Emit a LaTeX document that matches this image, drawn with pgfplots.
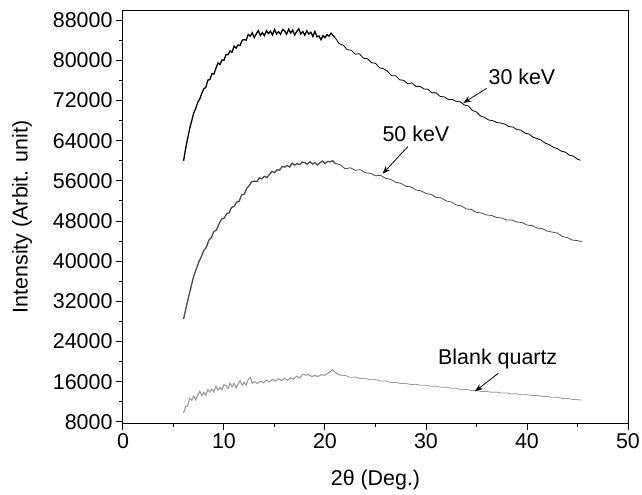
\documentclass[border=0pt]{standalone}
\usepackage{fontspec}
\setmainfont{Liberation Sans}
\usepackage{pgfplots}
\pgfplotsset{compat=1.18}
\usetikzlibrary{arrows.meta}
\definecolor{c30}{HTML}{000000}
\definecolor{c50}{HTML}{4A4A4A}
\definecolor{cbq}{HTML}{9A9A9A}
\newcommand{\fs}{\fontsize{21.5}{25}\selectfont}
\begin{document}
\begin{tikzpicture}
\useasboundingbox (-123bp,-72bp) rectangle (519bp,423bp);
\begin{axis}[
  at={(0,0)}, anchor=south west,
  scale only axis, width=505bp, height=412bp,
  xmin=0, xmax=50, ymin=7800, ymax=89800,
  xtick={0,10,...,50}, minor x tick num=1,
  ytick={8000,16000,...,88000}, minor y tick num=1,
  tick align=outside, tick pos=left,
  major tick length=7bp, minor tick length=4bp,
  axis line style={line width=1bp},
  every tick/.style={black, line width=1bp},
  scaled y ticks=false,
  /pgf/number format/assume math mode=true,
  yticklabel style={/pgf/number format/.cd, fixed, set thousands separator={}},
  tick label style={font=\fs},
  label style={font=\fs},
  xlabel={2θ (Deg.)}, ylabel={Intensity (Arbit. unit)},
  x label style={at={(axis description cs:0.5,-0.138)}, anchor=center},
  y label style={at={(axis description cs:-0.2,0.5)}, anchor=center},
  clip=false,
]
% 30 keV
\addplot[c30, line width=1.3bp] coordinates {
(6.0,60000)(6.2,62400)(6.4,64400)(6.6,66400)(6.8,67900)(7.0,69500)(7.2,70400)(7.4,71600)(7.6,72300)(7.8,73400)
(8.0,74300)(8.2,74600)(8.4,76050)(8.6,76150)(8.8,77300)(9.0,77250)(9.2,78400)(9.4,79450)(9.6,79150)(9.8,80050)
(10.0,80000)(10.2,81150)(10.4,81100)(10.6,81850)(10.8,81600)(11.0,82800)(11.2,82400)(11.4,83050)(11.6,82950)(11.8,84000)
(12.0,84100)(12.2,84000)(12.4,85150)(12.6,84800)(12.8,85450)(13.0,84500)(13.2,85280)(13.4,85900)(13.6,84930)(13.8,85500)
(14.0,84880)(14.2,85870)(14.4,85310)(14.6,85780)(14.8,85030)(15.0,86150)(15.2,85260)(15.4,85670)(15.6,85160)(15.8,86100)
(16.0,85860)(16.2,85200)(16.4,86180)(16.6,85400)(16.8,86000)(17.0,85020)(17.2,85710)(17.4,86280)(17.6,85210)(17.8,85720)
(18.0,84980)(18.2,85870)(18.4,85210)(18.6,85580)(18.8,84730)(19.0,85750)(19.2,84640)(19.4,84830)(19.6,84100)(19.8,84900)
(20.0,84500)(20.2,85100)(20.4,84800)(20.6,85400)(20.8,84900)(21.0,84500)
};
\addplot[c30, line width=0.8bp] coordinates {
(21.0,84500)(21.4,83300)(21.8,83000)(22.2,82100)(22.6,82000)(23.0,81200)(23.4,81300)(23.8,80400)(24.2,80300)(24.6,79500)(25.0,79400)
(25.4,78500)(25.8,78300)(26.2,77800)(26.6,76900)(27.0,76900)(27.4,76100)(27.8,76000)(28.2,75300)(28.6,75500)(29.0,74800)
(29.4,74800)(29.8,74300)(30.2,74200)(30.6,73500)(31.0,73500)(31.4,72800)(31.8,72700)(32.2,72200)(32.6,72200)(33.0,71800)
(33.4,71700)(33.8,71100)(34.2,70900)(34.6,70000)(35.0,69700)(35.4,68900)(35.8,68600)(36.2,68100)(36.6,68000)(37.0,67600)
(37.4,67500)(37.8,67300)(38.2,66800)(38.6,66700)(39.0,66200)(39.4,66100)(39.8,65500)(40.2,65300)(40.6,64700)(41.0,64400)
(41.4,64100)(41.8,63500)(42.2,63200)(42.6,62700)(43.0,62400)(43.4,61900)(43.8,61700)(44.2,61100)(44.6,60900)(45.0,60300)
(45.3,60100)
};
% 50 keV
\addplot[c50, line width=1.3bp] coordinates {
(6.0,28500)(6.25,30800)(6.5,32900)(6.75,35000)(7.0,37000)(7.25,38400)(7.5,39800)(7.75,40900)
(8.0,42150)(8.25,42750)(8.5,44200)(8.75,44700)(9.0,45900)(9.25,46200)(9.5,47380)(9.75,48380)(10.0,48530)(10.25,49400)
(10.5,49620)(10.75,50700)(11.0,50920)(11.25,51770)(11.5,51950)(11.75,53200)(12.0,53350)(12.25,54480)(12.5,55100)(12.75,55830)
(13.0,55950)(13.25,55850)(13.5,56600)(13.75,56400)(14.0,56900)(14.25,56650)(14.5,57280)(14.75,57880)(15.0,57630)(15.25,58200)
(15.5,58120)(15.75,58850)(16.0,58720)(16.25,59070)(16.5,58750)(16.75,59500)(17.0,59150)(17.25,59430)(17.5,59200)(17.75,59730)
(18.0,59650)(18.25,59300)(18.5,59800)(18.75,59350)(19.0,59600)(19.25,59150)(19.5,59580)(19.75,59930)(20.0,59430)(20.25,59850)
(20.5,59800)(20.75,60000)(21.0,59500)
};
\addplot[c50, line width=0.8bp] coordinates {
(21.0,59500)(21.5,59200)(22.0,58400)(22.5,58600)(23.0,58100)(23.5,58200)(24.0,57600)(24.5,57500)(25.0,57000)(25.5,57100)
(26.0,56500)(26.5,56300)(27.0,55700)(27.5,55500)(28.0,54900)(28.5,54800)(29.0,54200)(29.5,54000)(30.0,53500)(30.5,53300)
(31.0,52700)(31.5,52600)(32.0,52000)(32.5,51800)(33.0,51200)(33.5,51000)(34.0,50400)(34.5,50300)(35.0,49700)(35.5,49600)
(36.0,49200)(36.5,49100)(37.0,48700)(37.5,48600)(38.0,48200)(38.5,48200)(39.0,47800)(39.5,47700)(40.0,47200)(40.5,47100)
(41.0,46600)(41.5,46500)(42.0,46000)(42.5,45800)(43.0,45600)(43.5,44900)(44.0,44700)(44.5,44200)(45.0,44100)(45.4,43900)
};
% Blank quartz
\addplot[cbq, line width=1.1bp] coordinates {
(6.0,9800)(6.2,11060)(6.4,11210)(6.6,12735)(6.8,12305)(7.0,13190)(7.2,12415)(7.4,13330)(7.6,14115)(7.8,13225)
(8.0,13895)(8.2,13330)(8.4,14405)(8.6,13970)(8.8,14575)(9.0,13945)(9.2,15150)(9.4,14340)(9.6,14830)(9.8,14410)
(10.0,15420)(10.2,15240)(10.4,14670)(10.6,15725)(10.8,15025)(11.0,15690)(11.2,14795)(11.4,15590)(11.6,16255)(11.8,15295)
(12.0,15895)(12.2,15330)(12.4,16455)(12.6,16900)(12.8,15700)(13.0,16000)
(13.3,15650)(13.6,16150)(13.9,15800)(14.2,16350)(14.5,16000)(14.8,16500)(15.1,16100)(15.4,16600)(15.7,16200)(16.0,16700)
(16.3,16350)(16.6,16800)(16.9,16550)(17.2,17100)(17.5,16800)(17.8,17500)(18.1,17350)(18.4,17450)(18.7,17050)(19.0,17250)
(19.3,17050)(19.6,17400)(19.9,17300)(20.2,17600)(20.5,18000)(20.75,18400)(21.0,17900)(21.3,17500)(21.6,17300)
};
\addplot[cbq, line width=0.8bp] coordinates {
(21.6,17300)(22.0,17250)(22.5,16900)(23.0,16950)(23.5,16650)(24.0,16700)(24.5,16400)(25.0,16450)(25.5,16150)(26.0,16150)(26.5,15850)
(27.0,15900)(27.5,15650)(28.0,15700)(28.5,15450)(29.0,15500)(29.5,15300)(30.0,15330)(30.5,15100)(31.0,15150)(31.5,14900)
(32.0,14950)(32.5,14700)(33.0,14700)(33.5,14450)(34.0,14500)(34.5,14250)(35.0,14250)(35.5,14050)(36.0,14100)(36.5,13900)
(37.0,13950)(37.5,13750)(38.0,13780)(38.5,13580)(39.0,13600)(39.5,13420)(40.0,13450)(40.5,13250)(41.0,13300)(41.5,13100)
(42.0,13100)(42.5,12920)(43.0,12950)(43.5,12700)(44.0,12700)(44.5,12500)(45.0,12450)(45.4,12350)
};
\node[font=\fs] at (axis cs:39.5,76700) {30 keV};
\node[font=\fs] at (axis cs:29.0,65450) {50 keV};
\node[font=\fs] at (axis cs:37.1,20540) {Blank quartz};
\draw[-{Stealth[length=8bp,width=6bp]}, line width=0.8bp] (axis cs:36.0,74400) -- (axis cs:33.7,71500);
\draw[-{Stealth[length=8bp,width=6bp]}, line width=0.8bp] (axis cs:28.2,62800) -- (axis cs:25.7,57400);
\draw[-{Stealth[length=8bp,width=6bp]}, line width=0.8bp] (axis cs:37.16,17690) -- (axis cs:34.85,14100);
\end{axis}
\end{tikzpicture}
\end{document}
